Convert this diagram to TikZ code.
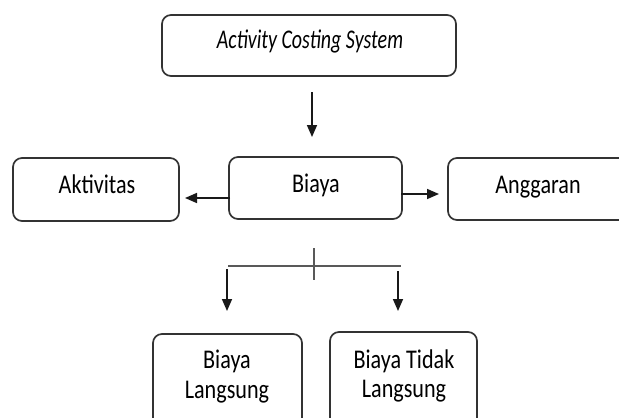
\documentclass[tikz,border=0pt]{standalone}
\usepackage{fontspec}
\setmainfont{Carlito}[FakeStretch=0.82,ItalicFeatures={FakeStretch=0.74}]
\usetikzlibrary{arrows.meta}
\begin{document}
\begin{tikzpicture}[x=1pt,y=-1pt,
  box/.style={draw=black!80,line width=1.7pt,rounded corners=9pt},
  lbl/.style={font=\fontsize{27}{29.5}\selectfont,align=center,inner sep=0pt,text=black},
  arr/.style={line width=1.6pt,draw=black!90,-{Triangle[length=12pt,width=10pt]}},
  ln/.style={line width=2pt,draw=black!65}]
\useasboundingbox (0,0) rectangle (619,418);
\draw[box] (162,15) rectangle (456,76);
\node[lbl,anchor=base] (acs) at (310,48) {\textit{Activity Costing System}};
\draw[box] (229,157) rectangle (402,219);
\node[lbl,anchor=base] (biaya) at (316,192) {Biaya};
\draw[box] (13,158) rectangle (179,221);
\node[lbl,anchor=base] (akt) at (97,193) {Aktivitas};
\draw[box] (448,158) rectangle (660,220);
\node[lbl,anchor=base] (ang) at (538,193) {Anggaran};
\draw[box] (153,334) rectangle (302,440);
\node[lbl] (bl) at (227,376.7) {Biaya\\Langsung};
\draw[box] (330,332) rectangle (477,440);
\node[lbl] (btl) at (404,375.8) {Biaya Tidak\\Langsung};
\coordinate (dtop) at (312,92);
\coordinate (dbot) at (312,137);
\draw[arr] (dtop) -- (dbot);
\coordinate (bl1) at (230,198);
\coordinate (bl2) at (185,198);
\draw[arr] (bl1) -- (bl2);
\coordinate (br1) at (401,194);
\coordinate (br2) at (439,194);
\draw[arr] (br1) -- (br2);
\coordinate (hl) at (228,266);
\coordinate (hr) at (401,266);
\draw[ln] (hl) -- (hr);
\coordinate (tt) at (314,248);
\coordinate (tb) at (314,280);
\draw[ln] (tt) -- (tb);
\coordinate (la1) at (227,269);
\coordinate (la2) at (227,311);
\draw[arr] (la1) -- (la2);
\coordinate (ra1) at (398,271);
\coordinate (ra2) at (398,311);
\draw[arr] (ra1) -- (ra2);
\end{tikzpicture}
\end{document}
